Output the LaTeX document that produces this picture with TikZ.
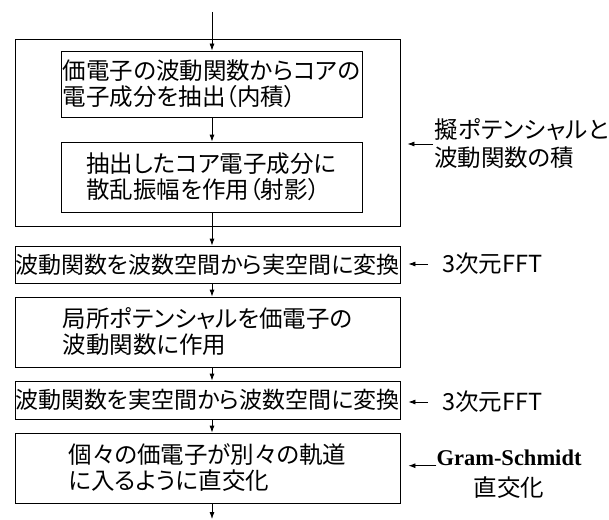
\documentclass[tikz,border=0pt]{standalone}
\usepackage{fontspec}
\newfontfamily\jp{Noto Sans CJK JP}[RawFeature=+palt]
\newfontfamily\jpwide{Noto Sans CJK JP}[RawFeature=+palt, LetterSpace=1.5]
\newfontfamily\tms{Liberation Serif}
\usetikzlibrary{arrows.meta}
\begin{document}
\begin{tikzpicture}[x=1pt,y=-1pt,
  box/.style={draw=black, line width=0.8pt, inner sep=0pt, align=left,
    font=\jp\fontsize{23.5}{26}\selectfont},
  onebox/.style={box, font=\jp\fontsize{23}{26}\selectfont},
  arr/.style={-{Latex[length=7pt,width=5pt]}, line width=0.8pt},
  lab/.style={inner sep=0pt, anchor=west, align=left,
    font=\jp\fontsize{23.5}{28}\selectfont}]
\useasboundingbox (0,0) rectangle (609,519);
\coordinate (start) at (212,12);
\node[box, minimum width=385pt, minimum height=187pt] (outer) at (207.5,132.5) {};
\node[box, minimum width=301pt, minimum height=66pt] (b1) at (211.5,84) {価電子の波動関数からコアの\\電子成分を抽出（内積）};
\node[box, minimum width=301pt, minimum height=70pt] (b2) at (211.5,177) {抽出したコア電子成分に\\散乱振幅を作用（射影）};
\node[onebox, minimum width=385pt, minimum height=37pt] (b3) at (207.5,264.5) {波動関数を波数空間から実空間に変換};
\node[box, minimum width=385pt, minimum height=70pt] (b4) at (207.5,332) {局所ポテンシャルを価電子の\\波動関数に作用};
\node[onebox, minimum width=385pt, minimum height=38pt] (b5) at (207.5,400) {波動関数を実空間から波数空間に変換};
\node[box, minimum width=385pt, minimum height=70pt] (b6) at (207.5,468) {個々の価電子が別々の軌道\\に入るように直交化};
\coordinate (end) at (212,519);
\draw[arr] (start) -- (b1.north -| start);
\draw[arr] (b1.south -| start) -- (b2.north -| start);
\draw[arr] (b2.south -| start) -- (b3.north -| start);
\draw[arr] (b3.south -| start) -- (b4.north -| start);
\draw[arr] (b4.south -| start) -- (b5.north -| start);
\draw[arr] (b5.south -| start) -- (b6.north -| start);
\draw[arr] (b6.south -| start) -- (end);
\node[lab] (l1) at (434,144) {{\jpwide 擬ポテンシャルと}\\波動関数の積};
\draw[arr, shorten <=1pt, shorten >=7pt] (l1.west) -- (l1.west -| outer.east);
\node[lab] (f1) at (442,264) {3次元FFT};
\draw[arr, shorten <=14pt, shorten >=8pt] (f1.west) -- (f1.west -| b3.east);
\node[lab] (f2) at (442,402) {3次元FFT};
\draw[arr, shorten <=14pt, shorten >=8pt] (f2.west) -- (f2.west -| b5.east);
\node[inner sep=0pt, font=\tms\bfseries\fontsize{22.5}{27}\selectfont] (gs) at (509,458) {Gram-Schmidt};
\node[inner sep=0pt, font=\jp\fontsize{23.5}{26}\selectfont] (gs2) at (509,488) {直交化};
\draw[arr, shorten >=8pt] (gs.base west) -- (gs.base west -| b6.east);
\end{tikzpicture}
\end{document}
